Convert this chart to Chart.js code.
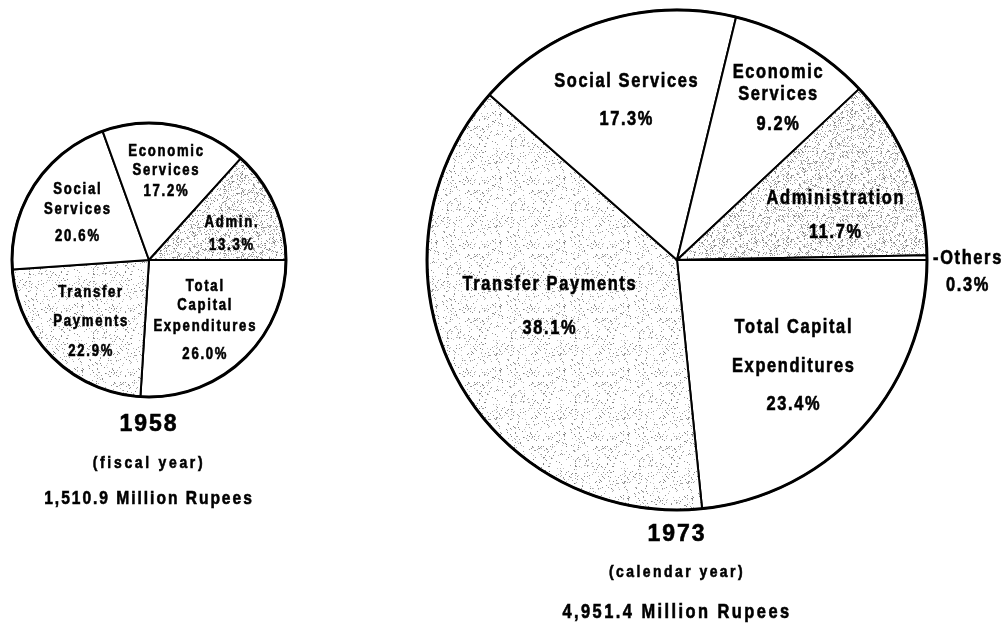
<!DOCTYPE html>
<html>
<head>
<meta charset="utf-8">
<script src="https://cdn.jsdelivr.net/npm/chart.js@4.4.1/dist/chart.umd.min.js"></script>
<style>
  html, body { margin: 0; padding: 0; background: #fff; }
  body { width: 1005px; height: 624px; position: relative; overflow: hidden; }
  .box { position: absolute; top: 0; height: 624px; }
  #box1958 { left: 0; width: 298px; }
  #box1973 { left: 354px; width: 651px; }
</style>
</head>
<body>
<div class="box" id="box1958"><canvas id="pie1958"></canvas></div>
<div class="box" id="box1973"><canvas id="pie1973"></canvas></div>
<script>
// parts en %, sens horaire à partir de 3 heures
const categories1958 = ['Total Capital Expenditures', 'Transfer Payments', 'Social Services', 'Economic Services', 'Admin.'];
const values1958 = [26.0, 22.9, 20.6, 17.2, 13.3];
const lines1958 = [['Total', 'Capital', 'Expenditures'], ['Transfer', 'Payments'], ['Social', 'Services'], ['Economic', 'Services'], ['Admin.']];
const title1958 = ['1958', '(fiscal year)', '1,510.9 Million Rupees'];

const categories1973 = ['Total Capital Expenditures', 'Transfer Payments', 'Social Services', 'Economic Services', 'Administration', 'Others'];
const values1973 = [23.4, 38.1, 17.3, 9.2, 11.7, 0.3];
const lines1973 = [['Total Capital', 'Expenditures'], ['Transfer Payments'], ['Social Services'], ['Economic', 'Services'], ['Administration'], ['-Others']];
const title1973 = ['1973', '(calendar year)', '4,951.4 Million Rupees'];

const FONT = "'Liberation Sans', Arial, sans-serif";
const NARROW = 0.82; // compression horizontale du texte

// trame pointillée (déterministe) pour les secteurs grisés
function stipple(density) {
    const c = document.createElement('canvas');
    c.width = c.height = 64;
    const g = c.getContext('2d');
    g.fillStyle = '#fff';
    g.fillRect(0, 0, 64, 64);
    const img = g.getImageData(0, 0, 64, 64);
    for (let y = 0; y < 64; y++) {
        for (let x = 0; x < 64; x++) {
            let h = Math.imul(x, 374761393) + Math.imul(y, 668265263);
            h = Math.imul(h ^ (h >>> 13), 1274126177);
            h = (h ^ (h >>> 16)) >>> 0;
            if ((h % 1000) / 1000 < density) {
                const i = (y * 64 + x) * 4;
                const k = 120 + (h >>> 12) % 80;
                img.data[i] = img.data[i + 1] = img.data[i + 2] = k;
            }
        }
    }
    g.putImageData(img, 0, 0);
    return g.createPattern(c, 'repeat');
}
const light = stipple(0.09);
const dense = stipple(0.19);

function drawText(ctx, t, x, y, sx) {
    ctx.save();
    ctx.translate(x, y);
    ctx.scale(sx, 1);
    ctx.fillText(t, 0, 0);
    ctx.strokeText(t, 0, 0);
    ctx.restore();
}

const pieText = {
    id: 'pieText',
    afterDatasetsDraw(chart, args, opts) {
        const ctx = chart.ctx;
        const meta = chart.getDatasetMeta(0);
        const values = chart.data.datasets[0].data;
        const a = meta.data[0].getProps(['x', 'y', 'outerRadius'], true);
        ctx.save();
        // contour extérieur plus épais
        ctx.beginPath();
        ctx.arc(a.x, a.y, a.outerRadius, 0, Math.PI * 2);
        ctx.lineWidth = 3;
        ctx.strokeStyle = '#000';
        ctx.stroke();

        ctx.fillStyle = '#000';
        ctx.lineWidth = 0.6;
        ctx.textAlign = 'center';
        ctx.textBaseline = 'middle';
        ctx.font = opts.labelFont;
        ctx.letterSpacing = opts.labelSpacing;
        meta.data.forEach((arc, i) => {
            const p = arc.getProps(['x', 'y', 'startAngle', 'endAngle', 'outerRadius'], true);
            const mid = (p.startAngle + p.endAngle) / 2;
            const d = p.outerRadius * opts.radius[i];
            const cx = p.x + Math.cos(mid) * d + opts.shift[i][0];
            const cy = p.y + Math.sin(mid) * d + opts.shift[i][1];
            const rows = opts.lines[i].concat(values[i].toFixed(1) + '%');
            const steps = opts.steps[i];
            let y = cy - steps.reduce((s, v) => s + v, 0) / 2;
            rows.forEach((t, k) => {
                drawText(ctx, t, cx, y, NARROW);
                y += steps[k] || 0;
            });
        });
        // titre sous le camembert
        opts.title.forEach((t, k) => {
            ctx.font = opts.titleFonts[k];
            ctx.letterSpacing = opts.titleSpacing[k];
            drawText(ctx, t, a.x, a.y + a.outerRadius + opts.titleY[k], k === 0 ? 1 : NARROW);
        });
        ctx.restore();
    }
};

function makePie(id, categories, values, fills, radius, padRight, textOpts) {
    return new Chart(document.getElementById(id), {
        type: 'pie',
        data: {
            labels: categories,
            datasets: [{
                data: values,
                backgroundColor: fills,
                borderColor: '#000',
                borderWidth: 2,
                radius: radius
            }]
        },
        options: {
            responsive: true,
            maintainAspectRatio: false,
            animation: false,
            rotation: 90,
            layout: { padding: { bottom: 104, right: padRight } },
            plugins: {
                legend: { display: false },
                tooltip: { enabled: false },
                pieText: textOpts
            }
        },
        plugins: [pieText]
    });
}

makePie('pie1958', categories1958, values1958, ['#fff', light, '#fff', '#fff', dense], 137, 0, {
    lines: lines1958,
    radius: [0.6, 0.62, 0.62, 0.657, 0.63],
    shift: [[0, 1], [2, 2], [0, 0], [0, 0], [4, 9]],
    steps: [[19, 21, 28], [29, 30], [20, 27], [19, 21], [23]],
    labelFont: 'bold 16px ' + FONT,
    labelSpacing: '2.1px',
    title: title1958,
    titleFonts: ['bold 23px ' + FONT, 'bold 17px ' + FONT, 'bold 19px ' + FONT],
    titleSpacing: ['2px', '3.3px', '2.4px'],
    titleY: [28, 66, 102]
});

makePie('pie1973', categories1973, values1973, ['#fff', light, '#fff', '#fff', dense, '#fff'], 250, 5, {
    lines: lines1973,
    radius: [0.63, 0.54, 0.67, 0.75, 0.66, 1.0],
    shift: [[0, 0], [-7, -15], [0, 0], [7, 0], [6, 18], [41, 14]],
    steps: [[39, 38], [44], [38], [22, 30], [34], [27]],
    labelFont: 'bold 20px ' + FONT,
    labelSpacing: '2px',
    title: title1973,
    titleFonts: ['bold 23px ' + FONT, 'bold 17px ' + FONT, 'bold 20px ' + FONT],
    titleSpacing: ['2px', '3px', '3px'],
    titleY: [25, 62, 102]
});
</script>
</body>
</html>
